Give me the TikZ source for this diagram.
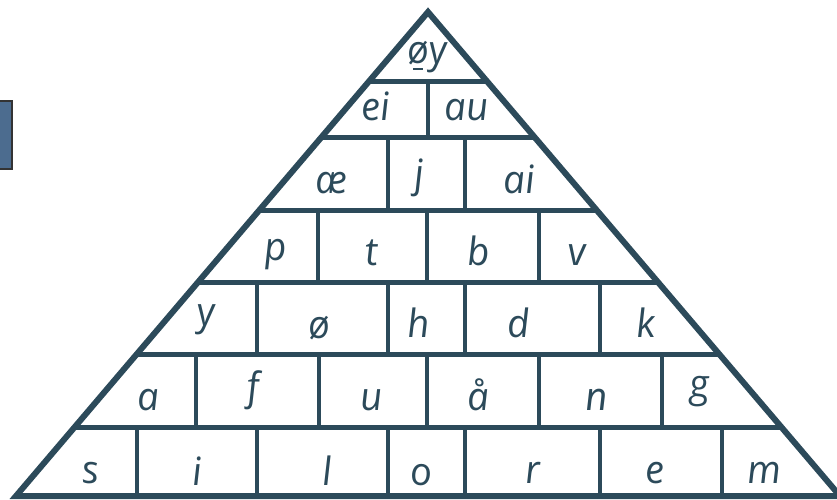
\documentclass[tikz,border=0pt]{standalone}
\usepackage{fontspec}
\setmainfont{Open Sans}
\newfontfamily\brickfont{Open Sans}[ItalicFeatures={FakeSlant=-0.1}]
\usetikzlibrary{positioning}
\definecolor{brickLine}{RGB}{44,74,90}
\definecolor{tabBlue}  {RGB}{76,108,143}

\begin{document}
\begin{tikzpicture}[x=1pt,y=-1pt,
    letter/.style={font=\brickfont\fontsize{39}{41}\selectfont\itshape,text=brickLine,
                   anchor=base,inner sep=0pt}]
    \useasboundingbox (0,0) rectangle (837,499);

    % ── aba azul (cortada) ───────────────────────────────
    \draw[black!80,fill=tabBlue,line width=1.5pt] (-5,101) rectangle (12,169);

    % ── tijolos ──────────────────────────────────────────
    \begin{scope}
      \clip (428,12) -- (16,496) -- (840,496) -- cycle;
      \foreach \y in {81,137,210,282,354,427}{\draw[brickLine,line width=5pt](0,\y)--(840,\y);}
      \foreach \ya/\yb/\xs in {81/137/{428},137/210/{388,465},210/282/{318,427,539},
                              282/354/{257,388,465,600},354/427/{196,319,427,539,662},
                              427/499/{137,257,388,465,600,722}}{
        \foreach \x in \xs {\draw[brickLine,line width=4.5pt](\x,\ya)--(\x,\yb);}
      }
    \end{scope}
    \draw[brickLine,line width=6pt] (428,12) -- (16,496) -- (840,496) -- cycle;

    % ── letras ───────────────────────────────────────────
    \node[letter] (oy) at (428,63){øy};
    \draw[brickLine,line width=1.5pt] (413,69) -- (423,69);
    \foreach \x/\y/\t [count=\k] in {377/120/ei,468/120/au}{\node[letter] (r2-\k) at (\x,\y){\t};}
    \foreach \x/\y/\t [count=\k] in {333/193/æ,420/187/j,520/193/ai}{\node[letter] (r3-\k) at (\x,\y){\t};}
    \foreach \x/\y/\t [count=\k] in {277/260/p,373/265/t,480/265/b,578/265/v}{\node[letter] (r4-\k) at (\x,\y){\t};}
    \foreach \x/\y/\t [count=\k] in {207/325/y,320/338/ø,420/337/h,520/337/d,647/337/k}{\node[letter] (r5-\k) at (\x,\y){\t};}
    \foreach \x/\y/\t [count=\k] in {150/410/a,255/400/f,373/410/u,480/410/å,598/410/n,701/397/g}{\node[letter] (r6-\k) at (\x,\y){\t};}
    \foreach \x/\y/\t [count=\k] in {92/483/s,198/485/i,328/485/l,422/485/o,534/483/r,656/483/e,765/483/m}{\node[letter] (r7-\k) at (\x,\y){\t};}

\end{tikzpicture}
\end{document}
